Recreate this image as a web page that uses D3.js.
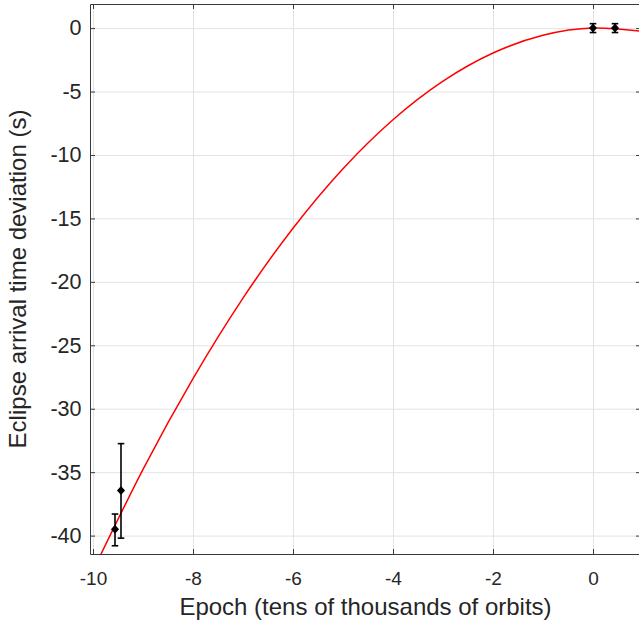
<!DOCTYPE html>
<html>
<head>
<meta charset="utf-8">
<script src="https://cdn.jsdelivr.net/npm/d3@7"></script>
<style>
  body { margin: 0; background: #fff; }
  svg text { font-family: "Liberation Sans", Arial, sans-serif; fill: #262626; }
</style>
</head>
<body>
<script>
// observed eclipse timings (epoch in 10^4 orbits, deviation in s)
var obs_epoch = [-9.56, -9.44, 0.0, 0.44];
var obs_value = [-39.5, -36.45, 0.0, 0.0];
var obs_lo    = [-40.8, -40.2, -0.35, -0.35];
var obs_hi    = [-38.3, -32.75, 0.35, 0.35];

// fitted curve
var fit_epoch = [-10, -9, -8, -7, -6, -5, -4, -3, -2, -1, 0, 1];
var fit_value = [-42.76, -34.78, -27.62, -21.28, -15.77, -11.08, -7.22, -4.18, -1.96, -0.57, 0, -0.26];

var xticks = [-10, -8, -6, -4, -2, 0];
var yticks = [0, -5, -10, -15, -20, -25, -30, -35, -40];

var W = 639, H = 625;
var m = {left: 90, top: 4, right: 641, bottom: 554};

var x = d3.scaleLinear().domain([-10.06, 0.96]).range([m.left, m.right]);
var y = d3.scaleLinear().domain([-41.45, 1.9]).range([m.bottom, m.top]);

var svg = d3.select("body").append("svg")
    .attr("width", W).attr("height", H);

svg.append("defs").append("clipPath").attr("id", "plotclip")
  .append("rect").attr("x", m.left).attr("y", m.top)
    .attr("width", m.right - m.left).attr("height", m.bottom - m.top);

// grid
svg.append("g").attr("class", "grid")
    .attr("transform", "translate(0," + m.bottom + ")")
    .call(d3.axisBottom(x).tickValues(xticks).tickFormat("").tickSize(-(m.bottom - m.top)))
    .call(g => g.select(".domain").remove())
    .call(g => g.selectAll("line").attr("stroke", "#e3e3e3"));
svg.append("g").attr("class", "grid")
    .attr("transform", "translate(" + m.left + ",0)")
    .call(d3.axisLeft(y).tickValues(yticks).tickFormat("").tickSize(-(m.right - m.left)))
    .call(g => g.select(".domain").remove())
    .call(g => g.selectAll("line").attr("stroke", "#e3e3e3"));

// fitted curve
var line = d3.line()
    .x((d, i) => x(fit_epoch[i]))
    .y(d => y(d))
    .curve(d3.curveNatural);
svg.append("path")
    .datum(fit_value)
    .attr("clip-path", "url(#plotclip)")
    .attr("fill", "none")
    .attr("stroke", "#ff0000")
    .attr("stroke-width", 1.5)
    .attr("d", line);

// error bars + markers
var pts = svg.append("g");
obs_epoch.forEach(function(e, i) {
    var cx = x(e), cap = 3.3;
    pts.append("line")
        .attr("x1", cx).attr("x2", cx)
        .attr("y1", y(obs_lo[i])).attr("y2", y(obs_hi[i]))
        .attr("stroke", "#000").attr("stroke-width", 1.6);
    [obs_lo[i], obs_hi[i]].forEach(function(v) {
        pts.append("line")
            .attr("x1", cx - cap).attr("x2", cx + cap)
            .attr("y1", y(v)).attr("y2", y(v))
            .attr("stroke", "#000").attr("stroke-width", 1.6);
    });
    var cy = y(obs_value[i]), r = 4.5;
    pts.append("path")
        .attr("d", "M" + cx + "," + (cy - r) + "L" + (cx + r * 0.9) + "," + cy +
                   "L" + cx + "," + (cy + r) + "L" + (cx - r * 0.9) + "," + cy + "Z")
        .attr("fill", "#000");
});

// axes (box, inward ticks)
var axcol = "#3a3a3a";
function styleAxis(g) {
    g.selectAll("line").attr("stroke", axcol);
    g.select(".domain").attr("stroke", axcol);
}
function minus(d) { return d < 0 ? "-" + Math.abs(d) : d; }
svg.append("g")
    .attr("transform", "translate(0," + m.bottom + ")")
    .call(d3.axisBottom(x).tickValues(xticks).tickSizeInner(-5).tickSizeOuter(0).tickPadding(18).tickFormat(minus))
    .call(styleAxis)
    .call(g => g.selectAll("text").attr("font-size", 19).attr("fill", "#262626"));
svg.append("g")
    .attr("transform", "translate(0," + m.top + ")")
    .call(d3.axisTop(x).tickValues(xticks).tickSizeInner(-5).tickSizeOuter(0).tickFormat(""))
    .call(styleAxis);
svg.append("g")
    .attr("transform", "translate(" + m.left + ",0)")
    .call(d3.axisLeft(y).tickValues(yticks).tickSizeInner(-5).tickSizeOuter(0).tickPadding(8.5).tickFormat(minus))
    .call(styleAxis)
    .call(g => g.selectAll("text").attr("font-size", 21.5).attr("fill", "#262626"));
svg.append("g")
    .attr("transform", "translate(" + m.right + ",0)")
    .call(d3.axisRight(y).tickValues(yticks).tickSizeInner(-5).tickSizeOuter(0).tickFormat(""))
    .call(styleAxis);

// axis labels
svg.append("text")
    .attr("x", (m.left + m.right) / 2).attr("y", 615)
    .attr("text-anchor", "middle")
    .attr("font-size", 24)
    .text("Epoch (tens of thousands of orbits)");
svg.append("text")
    .attr("transform", "translate(25.5," + ((m.top + m.bottom) / 2) + ") rotate(-90)")
    .attr("text-anchor", "middle")
    .attr("font-size", 24)
    .text("Eclipse arrival time deviation (s)");
</script>
</body>
</html>
